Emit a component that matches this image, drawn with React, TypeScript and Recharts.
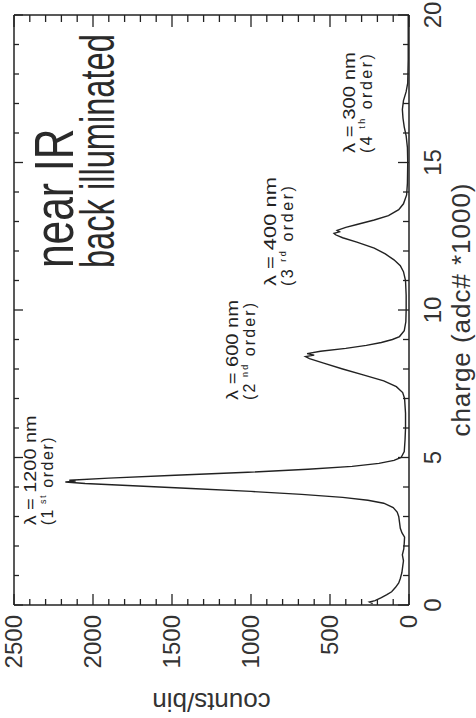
import { LineChart, Line, XAxis, YAxis, ReferenceDot } from 'recharts';

// spectrum: charge (adc# / 1000) vs counts per bin
const charge = [
  0.05, 0.1, 0.15, 0.25, 0.35, 0.45, 0.6, 0.75, 0.9, 1.1, 1.3, 1.5, 1.7, 1.9, 2.1, 2.3, 2.45, 2.6, 2.8,
  3.0, 3.15, 3.3, 3.45, 3.55, 3.65, 3.75, 3.85, 3.95, 4.05, 4.12, 4.17, 4.2, 4.23, 4.3, 4.4, 4.5, 4.6,
  4.7, 4.8, 4.9, 5.0, 5.2, 5.6, 6.0, 6.5, 7.0, 7.2, 7.4, 7.6, 7.8, 8.0, 8.2, 8.35, 8.42, 8.47, 8.52,
  8.6, 8.7, 8.8, 8.9, 9.0, 9.1, 9.3, 9.6, 10.0, 10.5, 11.0, 11.3, 11.5, 11.7, 11.9, 12.1, 12.3, 12.45,
  12.55, 12.6, 12.65, 12.7, 12.8, 12.9, 13.05, 13.2, 13.4, 13.6, 13.9, 14.3, 15.0, 15.5, 15.9, 16.2,
  16.5, 16.8, 17.1, 17.4, 17.7, 18.5, 19.5, 20,
];
const counts = [
  230, 250, 215, 175, 140, 110, 85, 65, 55, 45, 40, 35, 42, 33, 30, 28, 45, 55, 60,
  65, 75, 100, 160, 260, 420, 680, 1000, 1380, 1780, 2050, 2175, 2110, 2150, 1900, 1480, 1020, 640,
  360, 190, 95, 50, 30, 25, 22, 22, 28, 40, 80, 160, 290, 420, 540, 630, 655, 600, 645,
  560, 400, 270, 175, 105, 60, 30, 20, 18, 18, 22, 35, 55, 95, 150, 220, 330, 420,
  465, 475, 440, 455, 400, 330, 220, 130, 65, 35, 15, 10, 8, 10, 18, 30,
  38, 42, 35, 18, 8, 5, 5, 5,
];

const chargeTicks = [0, 1, 2, 3, 4, 5, 6, 7, 8, 9, 10, 11, 12, 13, 14, 15, 16, 17, 18, 19, 20];
const countTicks = [
  0, 100, 200, 300, 400, 500, 600, 700, 800, 900, 1000, 1100, 1200, 1300, 1400, 1500, 1600, 1700,
  1800, 1900, 2000, 2100, 2200, 2300, 2400, 2500,
];

const peakNotes = [
  { x: 2.7, y: 2361, text: 'λ = 1200 nm', n: '1', sup: 'st', len1: 110, len2: 88 },
  { x: 6.95, y: 1082, text: 'λ = 600 nm', n: '2', sup: 'nd', len1: 100, len2: 97 },
  { x: 10.81, y: 842, text: 'λ = 400 nm', n: '3', sup: 'rd', len1: 109, len2: 100 },
  { x: 15.32, y: 342, text: 'λ = 300 nm', n: '4', sup: 'th', len1: 101, len2: 99 },
];

const data = charge.map((c, i) => ({ charge: c, counts: counts[i] }));

const INK = '#222';
const FONT = '"Liberation Sans", Arial, sans-serif';

function BottomTick({ x, y, payload }: any) {
  const major = payload.value % 5 === 0;
  return (
    <g>
      <line x1={x} x2={x} y1={y} y2={y - (major ? 11 : 6)} stroke={INK} strokeWidth={1.3} />
      {major && (
        <text x={x} y={y + 32} textAnchor="middle" fontSize={24} fontFamily={FONT} fill="#333">
          {payload.value}
        </text>
      )}
    </g>
  );
}

function TopTick({ x, y, payload }: any) {
  const major = payload.value % 5 === 0;
  return <line x1={x} x2={x} y1={y} y2={y + (major ? 9 : 5)} stroke={INK} strokeWidth={1.3} />;
}

function LeftTick({ x, y, payload }: any) {
  const major = payload.value % 500 === 0;
  return (
    <g>
      <line x1={x} x2={x + (major ? 11 : 6)} y1={y} y2={y} stroke={INK} strokeWidth={1.3} />
      {major && (
        <text x={x - 10} y={y + 8} textAnchor="end" fontSize={24} fontFamily={FONT} fill="#333">
          {payload.value}
        </text>
      )}
    </g>
  );
}

function RightTick({ x, y, payload }: any) {
  const major = payload.value % 500 === 0;
  return <line x1={x} x2={x - (major ? 12 : 7)} y1={y} y2={y} stroke={INK} strokeWidth={1.3} />;
}

function PeakNote({ cx, cy, note }: any) {
  return (
    <g fill={INK} fontFamily={FONT} fontSize={16}>
      <text x={cx} y={cy} textLength={note.len1} lengthAdjust="spacingAndGlyphs">
        {note.text}
      </text>
      <text x={cx} y={cy + 17} textLength={note.len2} lengthAdjust="spacing">
        ({note.n}
        <tspan fontSize={9} dy={-7}>
          {' ' + note.sup}
        </tspan>
        <tspan dy={7}> order)</tspan>
      </text>
    </g>
  );
}

// the scan uses a narrow face; squeeze Liberation Sans horizontally to match
function Title({ cx, cy }: any) {
  return (
    <g fill="#2a2a2a" fontFamily={FONT}>
      <text transform={`translate(${cx}, ${cy}) scale(0.76, 1)`} fontSize={56}>
        near IR
      </text>
      <text transform={`translate(${cx}, ${cy + 41}) scale(0.68, 1)`} fontSize={48}>
        back illuminated
      </text>
    </g>
  );
}

function Spectrum() {
  return (
    <LineChart width={718} height={476} data={data} margin={{ top: 13, right: 14, bottom: 0, left: 0 }}>
      <XAxis
        xAxisId="b"
        dataKey="charge"
        type="number"
        domain={[0, 20]}
        ticks={chargeTicks}
        interval={0}
        height={67}
        tickSize={0}
        tickMargin={0}
        tickLine={false}
        tick={<BottomTick />}
        axisLine={{ stroke: INK, strokeWidth: 1.5 }}
        label={{
          content: ({ viewBox }: any) => (
            <text
              x={viewBox.x + viewBox.width / 2}
              y={viewBox.y + 61}
              textAnchor="middle"
              fontSize={26}
              fontFamily={FONT}
              fill="#333"
              textLength={253}
              lengthAdjust="spacing"
            >
              charge (adc# *1000)
            </text>
          ),
        }}
      />
      <XAxis
        xAxisId="t"
        orientation="top"
        dataKey="charge"
        type="number"
        domain={[0, 20]}
        ticks={chargeTicks}
        interval={0}
        height={1}
        tickSize={0}
        tickMargin={0}
        tickLine={false}
        tick={<TopTick />}
        axisLine={{ stroke: INK, strokeWidth: 1.5 }}
      />
      <YAxis
        yAxisId="l"
        type="number"
        domain={[0, 2500]}
        ticks={countTicks}
        interval={0}
        width={113}
        tickSize={0}
        tickMargin={0}
        tickLine={false}
        tick={<LeftTick />}
        axisLine={{ stroke: INK, strokeWidth: 1.5 }}
        label={{
          content: ({ viewBox }: any) => (
            <text
              transform={`translate(${viewBox.x + 25}, ${viewBox.y + viewBox.height / 2}) rotate(-90)`}
              textAnchor="middle"
              fontSize={26}
              fontFamily={FONT}
              fill="#333"
            >
              counts/bin
            </text>
          ),
        }}
      />
      <YAxis
        yAxisId="r"
        orientation="right"
        type="number"
        domain={[0, 2500]}
        ticks={countTicks}
        interval={0}
        width={1}
        tickSize={0}
        tickMargin={0}
        tickLine={false}
        tick={<RightTick />}
        axisLine={{ stroke: INK, strokeWidth: 1.5 }}
      />
      {/* unstroked copy on the mirrored frame axes so they get a scale and ticks */}
      <Line
        xAxisId="t"
        yAxisId="r"
        type="linear"
        dataKey="counts"
        stroke="none"
        dot={false}
        activeDot={false}
        legendType="none"
        isAnimationActive={false}
      />
      <Line
        xAxisId="b"
        yAxisId="l"
        type="linear"
        dataKey="counts"
        stroke={INK}
        strokeWidth={1.4}
        dot={false}
        isAnimationActive={false}
      />
      {peakNotes.map((n) => (
        <ReferenceDot
          key={n.text}
          xAxisId="b"
          yAxisId="l"
          x={n.x}
          y={n.y}
          r={0}
          shape={(p: any) => <PeakNote cx={p.cx} cy={p.cy} note={n} />}
        />
      ))}
      <ReferenceDot
        xAxisId="b"
        yAxisId="l"
        x={11.42}
        y={2127}
        r={0}
        shape={(p: any) => <Title cx={p.cx} cy={p.cy} />}
      />
    </LineChart>
  );
}

export default function App() {
  // the scanned figure is turned a quarter turn counter-clockwise
  return (
    <div style={{ position: 'fixed', left: 0, top: 0, width: 476, height: 718, overflow: 'hidden', background: '#fff' }}>
      <div
        style={{
          position: 'absolute',
          left: 0,
          top: 0,
          width: 718,
          height: 476,
          transformOrigin: '0 0',
          transform: 'translate(0px, 718px) rotate(-90deg)',
        }}
      >
        <Spectrum />
      </div>
    </div>
  );
}
